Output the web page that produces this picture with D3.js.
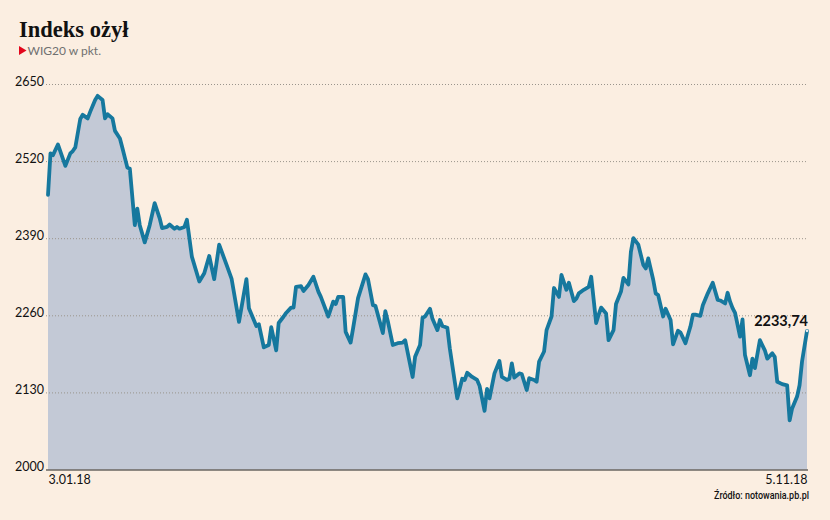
<!DOCTYPE html>
<html><head><meta charset="utf-8">
<script src="https://cdn.jsdelivr.net/npm/d3@7"></script>
<style>
html,body{margin:0;padding:0;background:#fbeee1;}
svg{display:block;}
</style></head>
<body>
<svg id="chart" width="830" height="520"></svg>
<script>
const title = "Indeks ożył";
const subtitle = "WIG20 w pkt.";
const source = "Źródło: notowania.pb.pl";
const yTicks = [2000, 2130, 2260, 2390, 2520, 2650];
const xTickDates = ["2018-01-03", "2018-11-05"];
const xTickLabels = ["3.01.18", "5.11.18"];
const lastLabel = "2233,74";

const dates = [
"2018-01-03","2018-01-04","2018-01-05","2018-01-07","2018-01-10","2018-01-12","2018-01-13","2018-01-14","2018-01-16","2018-01-17",
"2018-01-19","2018-01-20","2018-01-22","2018-01-23","2018-01-25","2018-01-26","2018-01-27","2018-01-29","2018-01-30","2018-02-01",
"2018-02-02","2018-02-04","2018-02-05","2018-02-07","2018-02-08","2018-02-09","2018-02-11","2018-02-13","2018-02-15","2018-02-17",
"2018-02-18","2018-02-20","2018-02-21","2018-02-23","2018-02-24","2018-02-25","2018-02-27","2018-02-28","2018-03-02","2018-03-05",
"2018-03-07","2018-03-09","2018-03-11","2018-03-13","2018-03-16","2018-03-18","2018-03-21","2018-03-24","2018-03-25","2018-03-28",
"2018-03-29","2018-03-31","2018-04-02","2018-04-03","2018-04-05","2018-04-06","2018-04-08","2018-04-09","2018-04-11","2018-04-12",
"2018-04-13","2018-04-15","2018-04-16","2018-04-18","2018-04-20","2018-04-22","2018-04-23","2018-04-26","2018-04-28","2018-04-29",
"2018-04-30","2018-05-02","2018-05-03","2018-05-05","2018-05-06","2018-05-08","2018-05-11","2018-05-12","2018-05-14","2018-05-15",
"2018-05-18","2018-05-19","2018-05-20","2018-05-22","2018-05-24","2018-05-26","2018-05-27","2018-05-30","2018-05-31","2018-06-02",
"2018-06-03","2018-06-04","2018-06-06","2018-06-07","2018-06-09","2018-06-10","2018-06-11","2018-06-13","2018-06-14","2018-06-16",
"2018-06-17","2018-06-19","2018-06-20","2018-06-21","2018-06-23","2018-06-25","2018-06-26","2018-06-28","2018-06-29","2018-06-30",
"2018-07-02","2018-07-04","2018-07-05","2018-07-07","2018-07-08","2018-07-09","2018-07-10","2018-07-12","2018-07-13","2018-07-15",
"2018-07-16","2018-07-18","2018-07-19","2018-07-20","2018-07-22","2018-07-23","2018-07-25","2018-07-26","2018-07-28","2018-07-29",
"2018-07-31","2018-08-01","2018-08-03","2018-08-04","2018-08-05","2018-08-07","2018-08-09","2018-08-10","2018-08-12","2018-08-13",
"2018-08-14","2018-08-16","2018-08-17","2018-08-19","2018-08-20","2018-08-22","2018-08-23","2018-08-25","2018-08-26","2018-08-27",
"2018-08-29","2018-08-31","2018-09-01","2018-09-02","2018-09-04","2018-09-05","2018-09-06","2018-09-08","2018-09-09","2018-09-11",
"2018-09-12","2018-09-14","2018-09-15","2018-09-17","2018-09-19","2018-09-20","2018-09-21","2018-09-23","2018-09-24","2018-09-26",
"2018-09-28","2018-09-30","2018-10-01","2018-10-03","2018-10-04","2018-10-05","2018-10-06","2018-10-07","2018-10-09","2018-10-10",
"2018-10-11","2018-10-13","2018-10-14","2018-10-15","2018-10-17","2018-10-19","2018-10-20","2018-10-22","2018-10-23","2018-10-24",
"2018-10-26","2018-10-28","2018-10-29","2018-10-30","2018-11-01","2018-11-02","2018-11-03","2018-11-05"
];
const values = [
2463,2533,2530,2548,2512,2533,2537,2543,2591,2598,
2592,2603,2623,2630,2623,2592,2599,2592,2571,2558,
2542,2509,2507,2412,2440,2412,2383,2412,2449,2424,
2407,2409,2413,2406,2409,2406,2409,2421,2359,2317,
2331,2360,2321,2379,2345,2322,2249,2321,2272,2242,
2245,2206,2210,2240,2201,2247,2258,2264,2273,2273,
2308,2309,2301,2311,2325,2300,2291,2258,2283,2279,
2291,2291,2232,2214,2238,2289,2329,2321,2277,2276,
2230,2267,2250,2210,2213,2214,2218,2156,2190,2210,
2256,2258,2271,2254,2235,2252,2242,2239,2204,2148,
2120,2153,2151,2163,2156,2151,2141,2099,2136,2120,
2162,2183,2156,2151,2153,2179,2155,2162,2161,2134,
2154,2151,2148,2182,2199,2235,2258,2306,2291,2328,
2303,2315,2284,2288,2297,2303,2308,2325,2247,2261,
2273,2263,2218,2235,2279,2300,2323,2312,2367,2390,
2379,2345,2339,2356,2320,2297,2294,2258,2271,2252,
2211,2234,2231,2213,2241,2261,2261,2259,2277,2297,
2315,2286,2285,2280,2298,2283,2272,2264,2224,2253,
2193,2159,2187,2171,2218,2201,2187,2196,2190,2148,
2144,2142,2083,2103,2123,2142,2182,2233.74
];

const parse = d3.timeParse("%Y-%m-%d");
const data = dates.map((d, i) => ({date: parse(d), value: values[i]}));

const svg = d3.select("#chart");
const W = 830, H = 520;
svg.append("rect").attr("width", W).attr("height", H).attr("fill", "#fbeee1");

const plotLeft = 48, plotRight = 807, plotTop = 84, plotBottom = 469.5;
const x = d3.scaleTime().domain([parse(xTickDates[0]), parse(xTickDates[1])]).range([plotLeft, plotRight]);
const y = d3.scaleLinear().domain([yTicks[0], yTicks[yTicks.length - 1]]).range([plotBottom, plotTop]);

// Area
const area = d3.area().x(d => x(d.date)).y0(y(yTicks[0])).y1(d => y(d.value));
svg.append("path").datum(data).attr("d", area).attr("fill", "#c3c9d6");

// Y axis with gridlines
const yAxis = d3.axisLeft(y).tickValues(yTicks).tickSize(-(plotRight - 46 + 1)).tickPadding(2).tickFormat(d3.format("d"));
const gy = svg.append("g").attr("transform", "translate(46,0)").call(yAxis);
gy.select(".domain").remove();
gy.selectAll(".tick line")
  .attr("stroke", d => d === yTicks[0] ? "#222" : "#9a948c")
  .attr("stroke-width", 1)
  .attr("stroke-dasharray", d => d === yTicks[0] ? null : "1,2");
gy.selectAll(".tick text")
  .attr("dy", "0.1em")
  .attr("x", -2)
  .attr("fill", "#111")
  .style("font-family", "Lato, 'Open Sans', sans-serif")
  .style("font-size", "12.5px");

// Line
const line = d3.line().x(d => x(d.date)).y(d => y(d.value)).curve(d3.curveLinear);
svg.append("path").datum(data).attr("d", line)
  .attr("fill", "none").attr("stroke", "#16789e").attr("stroke-width", 3.8)
  .attr("stroke-linejoin", "round").attr("stroke-linecap", "round");

// X axis labels
const xAxis = d3.axisBottom(x).tickValues(xTickDates.map(parse)).tickSize(0).tickPadding(0)
  .tickFormat((d, i) => xTickLabels[i]);
const gx = svg.append("g").attr("transform", `translate(0,${plotBottom})`).call(xAxis);
gx.select(".domain").remove();
gx.selectAll(".tick text")
  .attr("y", 14.5).attr("dy", 0)
  .attr("fill", "#111")
  .attr("text-anchor", (d, i) => i === 0 ? "start" : "end")
  .style("font-family", "Lato, 'Open Sans', sans-serif")
  .style("font-size", "12.5px");

// Last value label
const last = data[data.length - 1];
svg.append("text")
  .attr("x", x(last.date) + 1).attr("y", y(last.value) - 5)
  .attr("text-anchor", "end")
  .attr("fill", "#111")
  .style("font-family", "Lato, 'Open Sans', sans-serif")
  .style("font-weight", "700")
  .style("font-size", "14.5px")
  .text(lastLabel);
svg.append("circle").attr("cx", x(last.date)).attr("cy", y(last.value)).attr("r", 1.3).attr("fill", "#e8eef2");

// Title
svg.append("text").attr("x", 19).attr("y", 36.5)
  .attr("fill", "#111")
  .style("font-family", "'Liberation Serif', 'DejaVu Serif', serif")
  .style("font-weight", "700")
  .style("font-size", "22.5px")
  .text(title);

// Subtitle with red triangle
svg.append("path").attr("d", "M19,46 L26.5,50.5 L19,55 Z").attr("fill", "#e3051b");
svg.append("text").attr("x", 27.5).attr("y", 54.5)
  .attr("fill", "#707070")
  .style("font-family", "Lato, 'Open Sans', sans-serif")
  .style("font-size", "12px")
  .text(subtitle);

// Source
svg.append("text").attr("x", 809).attr("y", 498.5)
  .attr("text-anchor", "end")
  .attr("fill", "#111")
  .attr("textLength", 95).attr("lengthAdjust", "spacingAndGlyphs")
  .style("font-family", "Roboto, 'Open Sans', sans-serif")
  .style("font-weight", "500")
  .style("font-size", "10px")
  .text(source);
</script>
</body></html>
